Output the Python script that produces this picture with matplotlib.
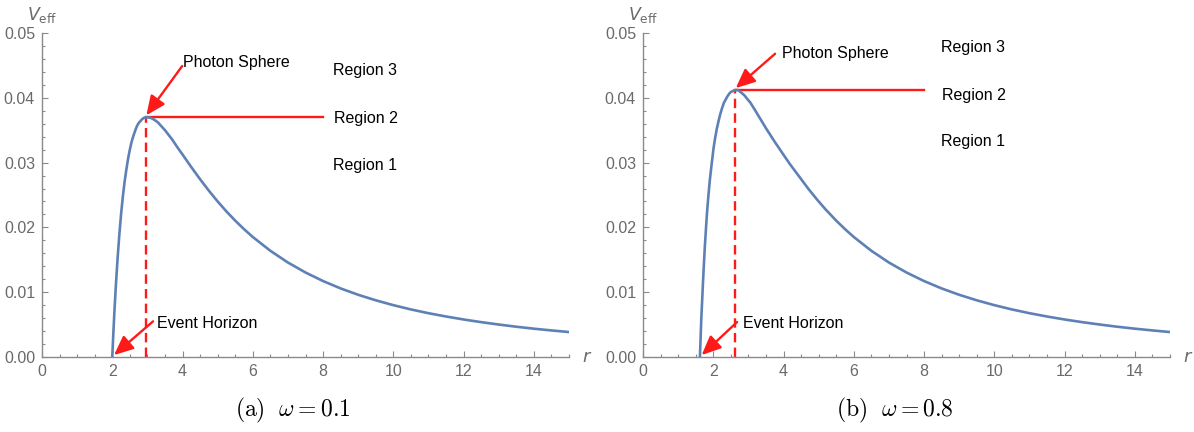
import numpy as np
import matplotlib
matplotlib.use("Agg")
import matplotlib.pyplot as plt
from matplotlib.ticker import MultipleLocator, FormatStrFormatter

plt.rcParams['font.family'] = ['Liberation Sans', 'DejaVu Sans']
plt.rcParams['mathtext.fontset'] = 'cm'

# effective potential, omega = 0.1
r_a = [2.0, 2.03, 2.06, 2.1, 2.15, 2.2, 2.25, 2.3, 2.35, 2.4, 2.45, 2.5, 2.55,
       2.6, 2.65, 2.7, 2.75, 2.8, 2.85, 2.9, 2.95, 3.0, 3.1, 3.2, 3.3, 3.4,
       3.5, 3.6, 3.7, 3.8, 3.9, 4.0, 4.25, 4.5, 4.75, 5.0, 5.25, 5.5, 5.75,
       6.0, 6.5, 7.0, 7.5, 8.0, 8.5, 9.0, 9.5, 10.0, 10.5, 11.0, 11.5, 12.0,
       12.5, 13.0, 13.5, 14.0, 14.5, 15.0]
v_a = [0.0, 0.0036, 0.0069, 0.0108, 0.0151, 0.0188, 0.0220, 0.0247, 0.0270,
       0.0289, 0.0306, 0.0320, 0.0332, 0.0341, 0.0349, 0.0356, 0.0361, 0.0364,
       0.0367, 0.0369, 0.0370, 0.0370, 0.0369, 0.0366, 0.0362, 0.0356, 0.0350,
       0.0343, 0.0336, 0.0328, 0.0320, 0.03125, 0.0293, 0.02743, 0.02566,
       0.0240, 0.02246, 0.02104, 0.01973, 0.01852, 0.01639, 0.01458, 0.01304,
       0.01172, 0.01058, 0.0096, 0.00875, 0.0080, 0.00734, 0.00676, 0.00625,
       0.00579, 0.00538, 0.00501, 0.00467, 0.00437, 0.0041, 0.00385]

# omega = 0.8
r_b = [1.62, 1.64, 1.66, 1.68, 1.71, 1.74, 1.76, 1.79, 1.82, 1.86, 1.9, 1.95,
       2.01, 2.05, 2.1, 2.15, 2.2, 2.25, 2.3, 2.35, 2.4, 2.45, 2.5, 2.54, 2.58,
       2.62, 2.66, 2.7, 2.75, 2.82, 2.9, 2.97, 3.05, 3.12, 3.2, 3.3, 3.4, 3.5,
       3.62, 3.75, 3.9, 4.0, 4.19, 4.4, 4.7, 4.95, 5.2, 5.5, 5.75, 6.0, 6.5,
       7.0, 7.5, 8.0, 8.5, 9.0, 9.5, 10.0, 10.5, 11.0, 11.5, 12.0, 12.5, 13.0,
       13.5, 14.0, 14.5, 15.0]
v_b = [0.0, 0.0030, 0.0060, 0.0083, 0.0118, 0.0150, 0.0170, 0.0196, 0.0221,
       0.0248, 0.0272, 0.0296, 0.0323, 0.0337, 0.0352, 0.0364, 0.0375, 0.0384,
       0.0392, 0.0397, 0.0402, 0.0406, 0.0409, 0.0410, 0.0411, 0.0412, 0.0412,
       0.0412, 0.0410, 0.0407, 0.0403, 0.0398, 0.0393, 0.0387, 0.0380, 0.0371,
       0.0362, 0.0353, 0.0343, 0.0332, 0.0320, 0.0312, 0.0297, 0.02818,
       0.0260, 0.02432, 0.02276, 0.02104, 0.01973, 0.01852, 0.01639, 0.01458,
       0.01304, 0.01172, 0.01058, 0.0096, 0.00875, 0.0080, 0.00734, 0.00676,
       0.00625, 0.00579, 0.00538, 0.00501, 0.00467, 0.00437, 0.0041, 0.00385]

captions = [r'$\mathrm{(a)}\ \ \omega = 0.1$', r'$\mathrm{(b)}\ \ \omega = 0.8$']
region_end = 8.0

# annotation layout (data coords)
layout = [
    dict(ps_text=(4.02, 0.0454), ps_from=(3.99, 0.0449),
         eh_text=(3.28, 0.0051), eh_from=(3.16, 0.0055),
         regions=[(8.29, 0.0442), (8.32, 0.0368), (8.29, 0.0295)]),
    dict(ps_text=(3.96, 0.0469), ps_from=(3.76, 0.0468),
         eh_text=(2.85, 0.0052), eh_from=(2.68, 0.0054),
         regions=[(8.49, 0.0478), (8.52, 0.0403), (8.49, 0.0332)]),
]

blue = '#5E81B5'
red = '#ff1a1a'
axcol = '#8a8a8a'
labcol = '#6a6a6a'

fig = plt.figure(figsize=(11.94, 4.32), dpi=100)
lefts = [42 / 1194, 643 / 1194]
datasets = [(r_a, v_a), (r_b, v_b)]

for i in range(2):
    ax = fig.add_axes([lefts[i], 1 - 357 / 432, 527 / 1194, 324 / 432])
    r, v = datasets[i]
    ax.plot(r, v, color=blue, lw=1.9, solid_joinstyle='round',
            solid_capstyle='round', zorder=3)

    k = int(np.argmax(v))
    r_ps, v_ps = r[k], v[k]
    ax.plot([r_ps, region_end], [v_ps, v_ps], color=red, lw=1.7, zorder=2)
    ax.plot([r_ps, r_ps], [0, v_ps], color=red, lw=1.7,
            dashes=(4, 2.2), zorder=2)

    L = layout[i]
    arrow = dict(arrowstyle='-|>,head_length=0.9,head_width=0.4',
                 color=red, lw=1.7, shrinkA=0, shrinkB=0, mutation_scale=13)
    ax.annotate('', xy=(r_ps + 0.02, v_ps + 0.0003), xytext=L['ps_from'],
                arrowprops=arrow, zorder=4)
    ax.text(*L['ps_text'], 'Photon Sphere', fontsize=11.5, va='center',
            ha='left', color='black')
    ax.annotate('', xy=(r[0] + 0.05, 0.0003), xytext=L['eh_from'],
                arrowprops=arrow, zorder=4, annotation_clip=False)
    ax.text(*L['eh_text'], 'Event Horizon', fontsize=11.5, va='center',
            ha='left', color='black')
    for j, (x, y) in enumerate(L['regions']):
        ax.text(x, y, 'Region %d' % (3 - j), fontsize=11.5, va='center',
                ha='left', color='black')

    ax.set_xlim(0, 15)
    ax.set_ylim(0, 0.05)
    for s in ['top', 'right']:
        ax.spines[s].set_visible(False)
    for s in ['left', 'bottom']:
        ax.spines[s].set_color(axcol)
        ax.spines[s].set_linewidth(1.0)
    ax.xaxis.set_major_locator(MultipleLocator(2))
    ax.xaxis.set_minor_locator(MultipleLocator(0.5))
    ax.yaxis.set_major_locator(MultipleLocator(0.01))
    ax.yaxis.set_minor_locator(MultipleLocator(0.002))
    ax.yaxis.set_major_formatter(FormatStrFormatter('%.2f'))
    ax.set_xticks(np.arange(0, 15, 2))
    ax.tick_params(which='both', direction='in', color=axcol, labelcolor=labcol,
                   labelsize=11.5, width=0.8)
    ax.tick_params(which='major', length=4.5, pad=5)
    ax.tick_params(which='minor', length=2.5)
    ax.text(1.025, 0.0, r'$r$', transform=ax.transAxes, color=labcol,
            fontsize=13, va='center', ha='left',
            family='DejaVu Sans', math_fontfamily='dejavusans')
    ax.text(0.0, 1.055, r'$V_{\mathrm{eff}}$', transform=ax.transAxes,
            color=labcol, fontsize=12.5, va='center', ha='center',
            math_fontfamily='dejavusans')
    ax.patch.set_alpha(0)

fig.text(293 / 1194, 1 - 410 / 432, captions[0], fontsize=17, ha='center',
         va='center')
fig.text(895 / 1194, 1 - 410 / 432, captions[1], fontsize=17, ha='center',
         va='center')

fig.savefig('out.png', dpi=100)
